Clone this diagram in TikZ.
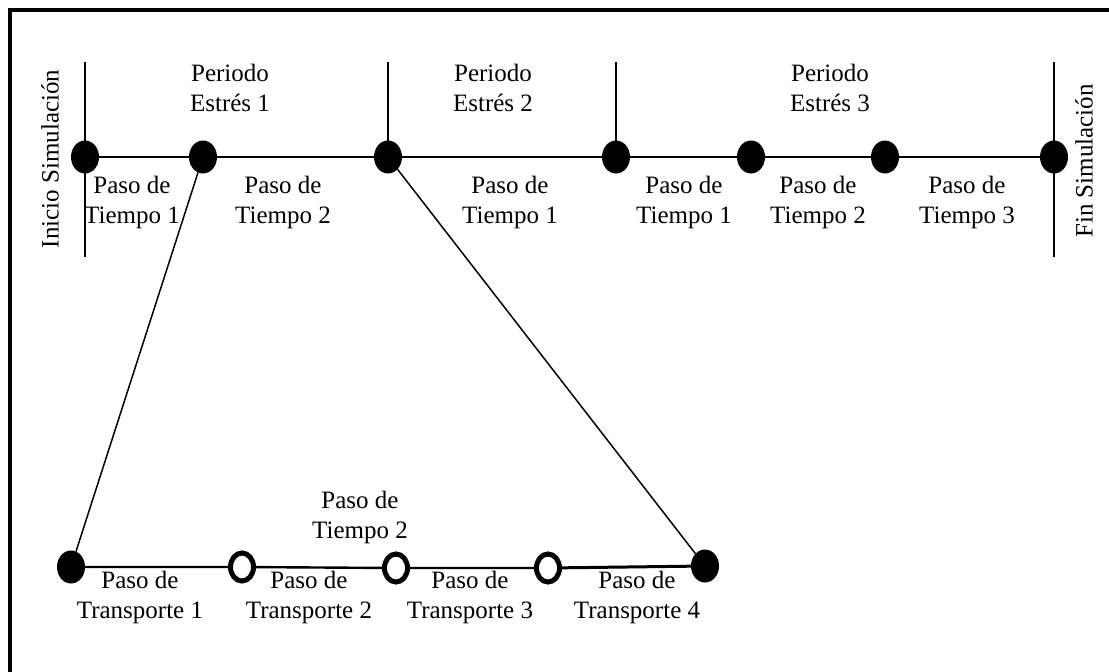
\documentclass[tikz,border=0pt]{standalone}
\usepackage{fontspec}
\setmainfont{Liberation Serif}
\usetikzlibrary{shapes.geometric}
\begin{document}
\begin{tikzpicture}[x=.5pt,y=-.5pt,line width=1.3pt,
  every node/.style={font=\fontsize{12.5}{15}\selectfont,inner sep=0pt,outer sep=0pt},
  lbl/.style={align=center},
  dot/.style={ellipse,fill=black,minimum width=14pt,minimum height=16.5pt},
  ring/.style={ellipse,draw,fill=white,line width=2.5pt,minimum width=11.5pt,minimum height=14pt}]
  \path[use as bounding box] (0,0) rectangle (1109,671);
  \draw[line width=1.75pt] (10,700)--(10,10)--(1130,10);
  % upper time line
  \foreach \n/\x in {1/85,2/203,3/388,4/616,5/751,6/885,7/1054} {\node[dot] (T\n) at (\x,157) {};}
  \coordinate (S1) at (85,62);   \coordinate (E1) at (85,257);
  \coordinate (S3) at (388,62);  \coordinate (S4) at (616,62);
  \coordinate (S7) at (1054,62); \coordinate (E7) at (1054,257);
  \draw[line width=1.2pt] (S1)--(E1) (S7)--(E7) (S3)--(T3) (S4)--(T4);
  \draw (T1)--(T2)--(T3)--(T4)--(T5)--(T6)--(T7);
  % lower time line
  \node[dot] (B1) at (71,567) {};
  \node[ring] (R1) at (242,567) {};
  \node[ring] (R2) at (396,568) {};
  \node[ring] (R3) at (548,568) {};
  \node[dot] (B2) at (705,566) {};
  \draw[line width=1.2pt] (B1)--(R1)--(R2)--(R3);
  \draw[line width=1.5pt] (R3)--(B2);
  \draw[line width=.75pt] (T2)--(B1) (T3)--(B2);
  % labels
  \node[rotate=90] (ini) at (50,159) {Inicio Simulación};
  \node[rotate=90] (fin) at (1084,161) {Fin Simulación};
  \foreach \n/\x in {1/230,2/493,3/830} {\node[lbl] (P\n) at (\x,88) {Periodo\\Estrés \n};}
  \foreach \m/\x/\n in {a/132/1,b/283/2,c/510/1,d/684/1,e/818/2,f/967/3} {\node[lbl] (D\m) at (\x,202) {Paso de\\Tiempo \n};}
  \foreach \n/\x in {1/140,2/309,3/470,4/637} {\node[lbl] (K\n) at (\x,597) {Paso de\\Transporte \n};}
  \node[lbl] (DT) at (360,517) {Paso de\\Tiempo 2};
\end{tikzpicture}
\end{document}
